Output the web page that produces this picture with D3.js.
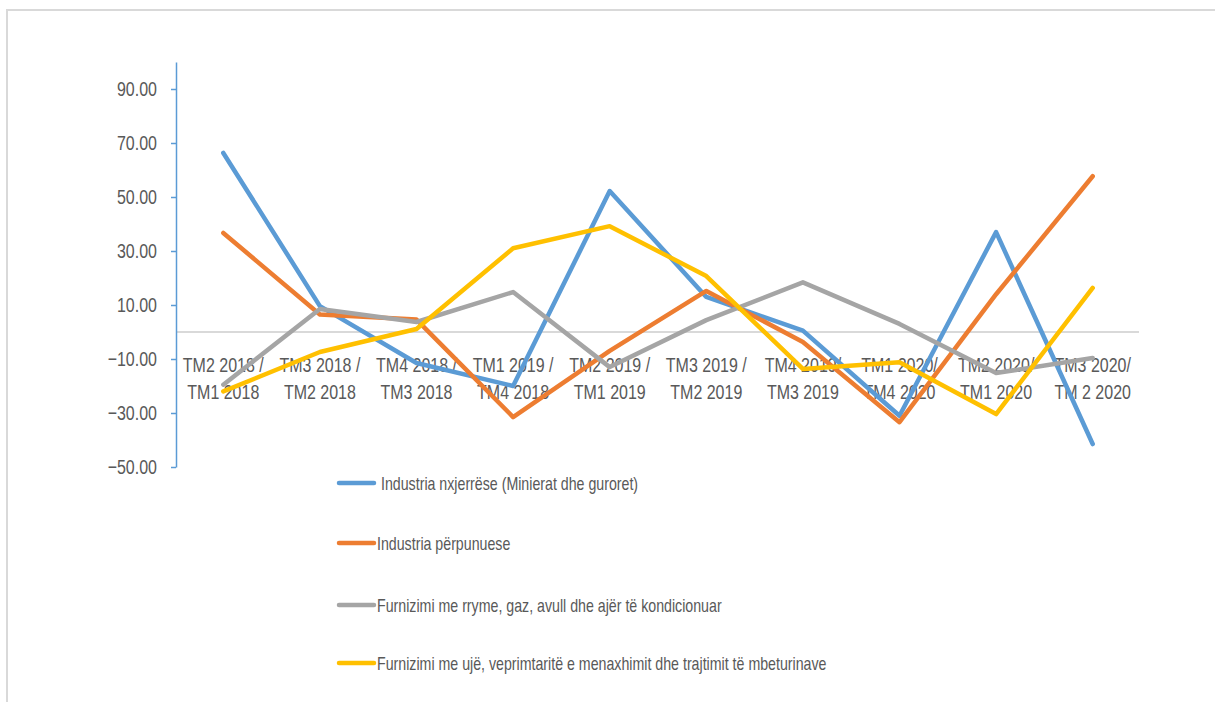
<!DOCTYPE html>
<html>
<head>
<meta charset="utf-8">
<script src="https://cdn.jsdelivr.net/npm/d3@7"></script>
<style>
  body { margin: 0; background: #fff; }
  text { font-family: "Liberation Sans", Arial, sans-serif; fill: #595959; }
</style>
</head>
<body>
<div id="chart"></div>
<script>
// categories (two text lines each)
var categories = [
  ["TM2 2018 /", "TM1 2018"],
  ["TM3 2018 /", "TM2 2018"],
  ["TM4 2018 /", "TM3 2018"],
  ["TM1 2019 /", "TM4 2018"],
  ["TM2 2019 /", "TM1 2019"],
  ["TM3 2019 /", "TM2 2019"],
  ["TM4 2019/", "TM3 2019"],
  ["TM1 2020/", "TM4 2020"],
  ["TM2 2020/", "TM1 2020"],
  ["TM3 2020/", "TM 2 2020"]
];

var seriesNames = [
  "Industria nxjerrëse (Minierat dhe guroret)",
  "Industria përpunuese",
  "Furnizimi me rryme, gaz, avull dhe ajër të kondicionuar",
  "Furnizimi me ujë, veprimtaritë e menaxhimit dhe trajtimit të mbeturinave"
];

var nxjerrese   = [66.3, 9.6, -11.5, -20, 52.2, 13, 0.5, -31, 37, -41.5];
var perpunuese  = [36.7, 6.5, 4.6, -31.5, -7, 15.2, -3.7, -33.4, 14, 57.7];
var rryme       = [-19.5, 8.5, 3.7, 14.8, -13, 4.4, 18.4, 3, -15.2, -9.6];
var uje         = [-22, -7.4, 1.1, 31, 39.2, 20.7, -13.7, -11.2, -30.4, 16.3];

var yTicks = [-50, -30, -10, 10, 30, 50, 70, 90];

var colors = ["#5b9bd5", "#ed7d31", "#a5a5a5", "#ffc000"];

var series = [nxjerrese, perpunuese, rryme, uje];

var svgWidth = 1215;
var svgHeight = 702;
var stretch = 1.3; // text in the original is tall and narrow

var svg = d3.select("#chart")
  .append("svg")
  .attr("width", svgWidth)
  .attr("height", svgHeight);

// outer frame
svg.append("rect")
  .attr("x", 7)
  .attr("y", 10)
  .attr("width", 1240)
  .attr("height", 720)
  .attr("fill", "none")
  .attr("stroke", "#d9d9d9")
  .attr("stroke-width", 2);

var xScale = d3.scalePoint()
  .domain(d3.range(categories.length))
  .range([175, 1141])
  .padding(0.5);

var yScale = d3.scaleLinear()
  .domain([-50, 100])
  .range([467, 62]);

// zero line
svg.append("line")
  .attr("x1", 176)
  .attr("x2", 1139)
  .attr("y1", yScale(0))
  .attr("y2", yScale(0))
  .attr("stroke", "#d9d9d9")
  .attr("stroke-width", 2);

// y axis
var leftAxis = d3.axisLeft(yScale)
  .tickValues(yTicks)
  .tickFormat(d3.format(".2f"))
  .tickSizeInner(5)
  .tickSizeOuter(0)
  .tickPadding(14);

var yAxis = svg.append("g")
  .attr("transform", "translate(176,0)")
  .call(leftAxis);

yAxis.select(".domain").attr("stroke", "#5b9bd5").attr("stroke-width", 1.5);
yAxis.selectAll(".tick line").attr("stroke", "#5b9bd5").attr("stroke-width", 1.5);
yAxis.selectAll(".tick text")
  .attr("font-size", 16)
  .attr("fill", "#595959")
  .attr("transform", "scale(1," + stretch + ")")
  .style("font-family", null);

// x labels
var xLabels = svg.append("g");
categories.forEach(function (c, i) {
  var g = xLabels.append("g")
    .attr("transform", "translate(" + xScale(i) + ",0) scale(1," + stretch + ")");
  var t = g.append("text")
    .attr("text-anchor", "middle")
    .attr("font-size", 16);
  t.append("tspan").attr("x", 0).attr("y", 372 / stretch).text(c[0]);
  t.append("tspan").attr("x", 0).attr("y", 399 / stretch).text(c[1]);
});

// lines
var line = d3.line()
  .x(function (d, i) { return xScale(i); })
  .y(function (d) { return yScale(d); });

series.forEach(function (s, k) {
  svg.append("path")
    .datum(s)
    .attr("d", line)
    .attr("fill", "none")
    .attr("stroke", colors[k])
    .attr("stroke-width", 4.5)
    .attr("stroke-linejoin", "round")
    .attr("stroke-linecap", "round");
});

// legend
var legendY = [483, 543, 605, 663];
var legend = svg.append("g");
seriesNames.forEach(function (name, k) {
  legend.append("line")
    .attr("x1", 339)
    .attr("x2", 374)
    .attr("y1", legendY[k])
    .attr("y2", legendY[k])
    .attr("stroke", colors[k])
    .attr("stroke-width", 4.5)
    .attr("stroke-linecap", "round");
  legend.append("g")
    .attr("transform", "translate(" + (k == 0 ? 381 : 377) + "," + (legendY[k] + 6.5) + ") scale(1,1.28)")
    .append("text")
    .attr("font-size", 14.2)
    .text(name);
});
</script>
</body>
</html>
